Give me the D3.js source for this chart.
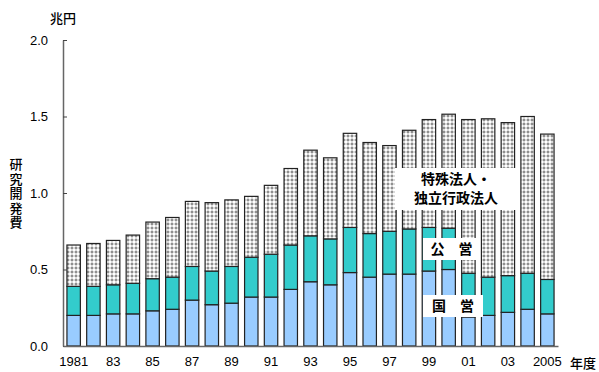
<!DOCTYPE html>
<html>
<head>
<meta charset="utf-8">
<script src="https://cdn.jsdelivr.net/npm/d3@7"></script>
<style>
  body { margin: 0; background: #fff; }
  svg text { font-family: "Noto Sans CJK JP", "Noto Sans", sans-serif; }
</style>
</head>
<body>
<div id="chart"></div>
<script>
// 年度
const years = ['1981','1982','1983','1984','1985','1986','1987','1988','1989','1990',
  '1991','1992','1993','1994','1995','1996','1997','1998','1999','2000',
  '2001','2002','2003','2004','2005'];
// x軸ラベル
const yearLabels = ['1981','83','85','87','89','91','93','95','97','99','01','03','2005'];
// 国営 (兆円)
const national = [0.20,0.20,0.21,0.21,0.23,0.24,0.30,0.27,0.28,0.32,
  0.32,0.37,0.42,0.40,0.48,0.45,0.47,0.47,0.49,0.50,
  0.19,0.20,0.22,0.24,0.21];
// 公営
const publicOp = [0.19,0.19,0.19,0.20,0.21,0.21,0.22,0.22,0.24,0.26,
  0.28,0.29,0.30,0.30,0.295,0.285,0.28,0.295,0.285,0.27,
  0.285,0.25,0.24,0.235,0.225];
// 特殊法人・独立行政法人
const special = [0.27,0.28,0.29,0.315,0.37,0.39,0.425,0.447,0.435,0.398,
  0.45,0.50,0.56,0.53,0.615,0.595,0.56,0.645,0.705,0.745,
  1.005,1.035,1.00,1.025,0.95];
const yTicks = [0, 0.5, 1.0, 1.5, 2.0];

const keys = ['national', 'publicOp', 'special'];
const table = years.map((y, i) => ({
  year: y, national: national[i], publicOp: publicOp[i], special: special[i]
}));

// svg領域設定
const svgWidth = 599;
const svgHeight = 372;
const svg = d3.select('#chart')
  .append('svg')
  .attr('width', svgWidth)
  .attr('height', svgHeight);

// ドットパターン
const defs = svg.append('defs');
const pat = defs.append('pattern')
  .attr('id', 'dots')
  .attr('patternUnits', 'userSpaceOnUse')
  .attr('width', 4)
  .attr('height', 4);
pat.append('rect').attr('width', 4).attr('height', 4).attr('fill', '#b8b8b8');
pat.append('rect').attr('x', 0.5).attr('y', 0.5).attr('width', 3).attr('height', 3)
  .attr('rx', 1).attr('fill', '#fff');
[[0, 0], [4, 0], [0, 4], [4, 4]].forEach(([cx, cy]) => {
  pat.append('circle').attr('cx', cx).attr('cy', cy).attr('r', 0.8).attr('fill', '#555');
});

// scale設定
const x = d3.scaleBand()
  .domain(years)
  .range([63, 558])
  .paddingInner(0.32)
  .paddingOuter(0.2);
const y = d3.scaleLinear()
  .domain([0, 2])
  .range([346, 40]);
const fills = { national: '#99ccff', publicOp: '#33cccc', special: 'url(#dots)' };

const stack = d3.stack().keys(keys);
const series = stack(table);

// バー
svg.append('g')
  .selectAll('g')
  .data(series)
  .join('g')
  .attr('fill', d => fills[d.key])
  .selectAll('rect')
  .data(d => d)
  .join('rect')
  .attr('x', d => x(d.data.year))
  .attr('y', d => y(d[1]))
  .attr('width', x.bandwidth())
  .attr('height', d => y(d[0]) - y(d[1]))
  .attr('stroke', '#222')
  .attr('stroke-width', 1.2);

// y軸
const yAxis = svg.append('g')
  .attr('transform', 'translate(63,0)')
  .call(d3.axisLeft(y).tickValues(yTicks).tickFormat(d3.format('.1f'))
    .tickSize(-4).tickSizeOuter(0).tickPadding(15));
yAxis.select('.domain').attr('stroke', '#666').attr('stroke-width', 1.5);
yAxis.selectAll('.tick line').attr('stroke', '#444');
yAxis.selectAll('.tick text')
  .attr('font-size', 13)
  .attr('fill', '#000')
  .style('font-family', '"Liberation Sans", Arial, sans-serif');

// x軸
const xAxis = svg.append('g')
  .attr('transform', 'translate(0,346)')
  .call(d3.axisBottom(x).tickValues(years.filter((d, i) => i % 2 === 0))
    .tickFormat((d, i) => yearLabels[i]).tickSize(0).tickPadding(11));
xAxis.select('.domain').attr('stroke', '#666').attr('stroke-width', 1.5);
xAxis.selectAll('.tick text')
  .attr('font-size', 13)
  .attr('fill', '#000')
  .style('font-family', '"Liberation Sans", Arial, sans-serif');

// 単位
svg.append('text')
  .attr('x', 63).attr('y', 23)
  .attr('text-anchor', 'middle')
  .attr('font-size', 13)
  .attr('font-weight', 500)
  .text('兆円');
svg.append('text')
  .attr('x', 583).attr('y', 368)
  .attr('text-anchor', 'middle')
  .attr('font-size', 13)
  .attr('font-weight', 500)
  .text('年度');

// 縦書き軸タイトル
svg.append('text')
  .attr('x', 16).attr('y', 158)
  .attr('font-size', 13)
  .attr('font-weight', 500)
  .style('writing-mode', 'vertical-rl')
  .style('letter-spacing', '1.5px')
  .text('研究開発費');

// 系列ラベル
const labels = [
  { lines: ['特殊法人・', '独立行政法人'], x: 395, y: 168, w: 122, h: 42 },
  { lines: ['公　営'], x: 423, y: 238, w: 57, h: 22 },
  { lines: ['国　営'], x: 423, y: 295, w: 60, h: 22 }
];
const lab = svg.append('g').selectAll('g').data(labels).join('g');
lab.append('rect')
  .attr('x', d => d.x).attr('y', d => d.y)
  .attr('width', d => d.w).attr('height', d => d.h)
  .attr('fill', '#fff');
lab.append('text')
  .attr('font-size', 14)
  .attr('font-weight', 'bold')
  .attr('text-anchor', 'middle')
  .selectAll('tspan')
  .data(d => d.lines.map((l, i) => ({ l, i, d })))
  .join('tspan')
  .attr('x', t => t.d.x + t.d.w / 2)
  .attr('y', t => t.d.y + 16 + t.i * 19)
  .text(t => t.l);
</script>
</body>
</html>
